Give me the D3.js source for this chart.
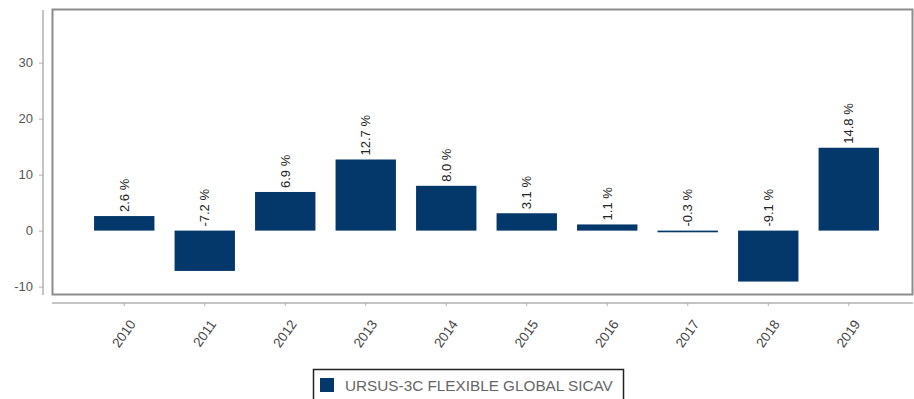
<!DOCTYPE html>
<html>
<head>
<meta charset="utf-8">
<script src="https://cdn.jsdelivr.net/npm/d3@7"></script>
<style>
  body { margin: 0; background: #fff; }
  text { font-family: "Liberation Sans", Arial, sans-serif; }
</style>
</head>
<body>
<div id="chart"></div>
<script>
// data
const YEARS = ["2010", "2011", "2012", "2013", "2014", "2015", "2016", "2017", "2018", "2019"];
const RETURNS = [2.6, -7.2, 6.9, 12.7, 8.0, 3.1, 1.1, -0.3, -9.1, 14.8];
const Y_TICKS = [-10, 0, 10, 20, 30];
const SERIES_NAME = "URSUS-3C FLEXIBLE GLOBAL SICAV";

const WIDTH = 914, HEIGHT = 399;
const BAR_COLOR = "#04386a";

const svg = d3.select("#chart").append("svg")
    .attr("width", WIDTH)
    .attr("height", HEIGHT);

// plot frame
svg.append("rect")
    .attr("x", 52.5).attr("y", 9.5)
    .attr("width", 860).attr("height", 285)
    .attr("fill", "none")
    .attr("stroke", "#8c8c8c")
    .attr("stroke-width", 2);

// scales
const xScale = d3.scaleBand()
    .domain(YEARS)
    .range([84, 889])
    .paddingInner(0.25)
    .paddingOuter(0.125);

const yScale = d3.scaleLinear()
    .domain([-11.5, 39.4])
    .range([295, 10]);

// y axis
const yAxis = svg.append("g")
    .attr("transform", "translate(43,0)")
    .call(d3.axisLeft(yScale).tickValues(Y_TICKS).tickFormat(d => String(d))
        .tickSize(4).tickPadding(6));
yAxis.select(".domain").attr("stroke", "#b0b0b0").attr("stroke-width", 1.5)
    .attr("d", "M0,10V295");
yAxis.selectAll(".tick line").attr("stroke", "#b0b0b0");
yAxis.selectAll(".tick text")
    .attr("fill", "#555")
    .style("font-size", "13px");

// x axis
const xAxis = svg.append("g")
    .attr("transform", "translate(0,303)")
    .call(d3.axisBottom(xScale).tickSize(3).tickSizeOuter(0));
xAxis.select(".domain").attr("stroke", "#b0b0b0").attr("stroke-width", 1.5)
    .attr("d", "M52,0H913");
xAxis.selectAll(".tick line").attr("stroke", "#b0b0b0");
xAxis.selectAll(".tick text")
    .attr("fill", "#444")
    .style("font-size", "13.5px")
    .attr("text-anchor", "end")
    .attr("y", 0).attr("dy", 0)
    .attr("transform", "translate(12,21) rotate(-55)");

// bars
svg.append("g")
    .selectAll("rect")
    .data(RETURNS)
    .enter()
    .append("rect")
    .attr("x", (d, i) => xScale(YEARS[i]))
    .attr("width", xScale.bandwidth())
    .attr("y", d => yScale(Math.max(0, d)))
    .attr("height", d => Math.max(1.5, Math.abs(yScale(d) - yScale(0))))
    .attr("fill", BAR_COLOR);

// value labels
svg.append("g")
    .selectAll("text")
    .data(RETURNS)
    .enter()
    .append("text")
    .attr("transform", (d, i) => {
        const cx = xScale(YEARS[i]) + xScale.bandwidth() / 2;
        const cy = yScale(Math.max(0, d)) - 4;
        return "translate(" + cx + "," + cy + ") rotate(-90)";
    })
    .attr("dy", "0.35em")
    .attr("fill", "#222")
    .style("font-size", "13px")
    .text(d => d.toFixed(1) + " %");

// legend
const legend = svg.append("g");
legend.append("rect")
    .attr("x", 313.5).attr("y", 369.5)
    .attr("width", 310).attr("height", 40)
    .attr("fill", "#fff")
    .attr("stroke", "#222")
    .attr("stroke-width", 1.5);
legend.append("rect")
    .attr("x", 320).attr("y", 378)
    .attr("width", 14).attr("height", 14)
    .attr("fill", BAR_COLOR);
legend.append("text")
    .attr("x", 345).attr("y", 391)
    .attr("fill", "#666")
    .style("font-size", "15.3px")
    .text(SERIES_NAME);
</script>
</body>
</html>
